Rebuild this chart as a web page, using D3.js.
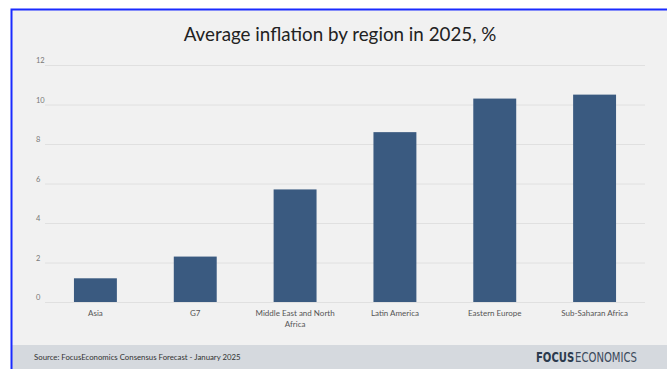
<!DOCTYPE html>
<html>
<head>
<meta charset="UTF-8">
<title>Average inflation by region in 2025</title>
<script src="https://cdn.jsdelivr.net/npm/d3@7"></script>
<style>
  body { margin: 0; background: #fff; }
  svg { display: block; }
</style>
</head>
<body>
<script>
  var w = 667, h = 369;

  // data
  var regions = ["Asia", "G7", "Middle East and North Africa", "Latin America", "Eastern Europe", "Sub-Saharan Africa"];
  var inflation = [1.2, 2.3, 5.7, 8.6, 10.3, 10.5];
  var yTicks = [0, 2, 4, 6, 8, 10, 12];

  var margin = { top: 65, bottom: 67, left: 45, right: 22 };

  var svg = d3.select("body").append("svg")
    .attr("width", w).attr("height", h);

  // panel background + blue frame edge
  svg.append("rect").attr("x", 11).attr("y", 9).attr("width", w - 11).attr("height", h - 9)
    .attr("fill", "#f1f1f1");
  svg.append("rect").attr("x", 11).attr("y", 345).attr("width", w - 11).attr("height", h - 345)
    .attr("fill", "#d5d9de");
  svg.append("path").attr("d", "M11.5," + h + "V9.5H" + w)
    .attr("fill", "none").attr("stroke", "#1a2bff").attr("stroke-width", 2);

  svg.append("text")
    .attr("x", 340).attr("y", 41)
    .attr("text-anchor", "middle")
    .attr("font-family", "Lato, 'Open Sans', sans-serif")
    .attr("font-size", 18.8)
    .attr("fill", "#222")
    .text("Average inflation by region in 2025, %");

  var x = d3.scaleBand()
    .domain(regions)
    .range([margin.left, w - margin.right])
    .paddingInner(0.57).paddingOuter(0.29);

  var y = d3.scaleLinear()
    .domain([0, 12])
    .range([h - margin.bottom, margin.top]);

  // gridlines + y labels
  var yAxis = svg.append("g")
    .attr("transform", "translate(" + margin.left + ",0)")
    .call(d3.axisLeft(y).tickValues(yTicks).tickSize(-(w - margin.right - margin.left)).tickPadding(4));
  yAxis.select(".domain").remove();
  yAxis.selectAll(".tick line").attr("stroke", "#e0e0e0").attr("stroke-width", 1);
  yAxis.selectAll(".tick text")
    .attr("fill", "#777").attr("font-size", 7.5)
    .attr("font-family", "Lato, 'Open Sans', sans-serif")
    .attr("text-anchor", "start").attr("x", -9).attr("dy", "-0.3em");

  svg.selectAll(".bar")
    .data(inflation)
    .enter().append("rect")
    .attr("class", "bar")
    .attr("x", function(d, i) { return x(regions[i]); })
    .attr("y", function(d) { return y(d); })
    .attr("width", x.bandwidth())
    .attr("height", function(d) { return y(0) - y(d); })
    .attr("fill", "#3a5a80");

  // x labels
  var xAxis = svg.append("g")
    .attr("transform", "translate(0," + y(0) + ")")
    .call(d3.axisBottom(x).tickSize(0).tickPadding(8));
  xAxis.select(".domain").remove();
  xAxis.selectAll(".tick text")
    .attr("fill", "#555").attr("font-size", 8)
    .attr("font-family", "Lato, 'Open Sans', sans-serif")
    .each(function(d) {
      var t = d3.select(this);
      if (d === "Middle East and North Africa") {
        t.text(null);
        t.append("tspan").attr("x", 0).attr("dy", "0.71em").text("Middle East and North");
        t.append("tspan").attr("x", 0).attr("dy", "1.4em").text("Africa");
        t.attr("dy", null);
      }
    });

  // footer
  svg.append("text")
    .attr("x", 34).attr("y", 360)
    .attr("font-family", "Lato, 'Open Sans', sans-serif")
    .attr("font-size", 7.8).attr("fill", "#333")
    .text("Source: FocusEconomics Consensus Forecast - January 2025");

  // logo: two words side by side, squeezed horizontally to fit
  var logo = svg.append("g");
  var focus = logo.append("text")
    .attr("x", 0).attr("y", 0)
    .attr("font-family", "'DejaVu Sans Condensed', 'Liberation Sans Narrow', sans-serif")
    .attr("font-size", 14).attr("font-weight", "bold").attr("fill", "#2b3a4d")
    .text("FOCUS");
  var fw = focus.node().getComputedTextLength();
  var econ = logo.append("text")
    .attr("x", fw + 1).attr("y", 0)
    .attr("font-family", "'DejaVu Sans Condensed', 'Liberation Sans Narrow', sans-serif")
    .attr("font-size", 14).attr("font-weight", "200").attr("fill", "#3c4a5c")
    .text("ECONOMICS");
  var total = fw + 1 + econ.node().getComputedTextLength();
  logo.attr("transform", "translate(536,362) scale(" + (101 / total) + ",1)");
</script>
</body>
</html>
